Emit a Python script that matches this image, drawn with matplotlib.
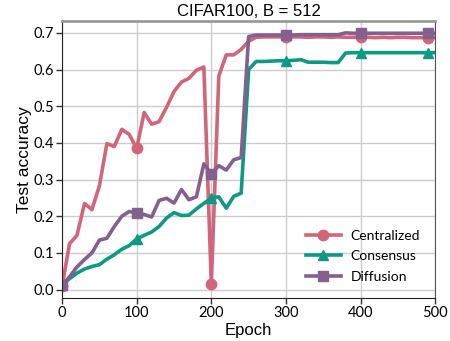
import numpy as np
import matplotlib
matplotlib.use("Agg")
from matplotlib import pyplot as plt

epochs = np.arange(0, 501, 10)

centralized = [0.010, 0.125, 0.148, 0.235, 0.218, 0.283, 0.398, 0.390, 0.437, 0.423,
               0.385, 0.483, 0.451, 0.458, 0.497, 0.540, 0.566, 0.576, 0.598, 0.607,
               0.015, 0.582, 0.640, 0.640, 0.655, 0.677, 0.688, 0.689, 0.689, 0.689,
               0.689, 0.689, 0.689, 0.688, 0.689, 0.689, 0.688, 0.689, 0.688, 0.688,
               0.688, 0.688, 0.687, 0.688, 0.687, 0.688, 0.688, 0.687, 0.687, 0.687,
               0.687]
consensus = [0.012, 0.030, 0.045, 0.056, 0.063, 0.068, 0.083, 0.095, 0.110, 0.120,
             0.138, 0.148, 0.157, 0.172, 0.195, 0.210, 0.202, 0.203, 0.220, 0.235,
             0.250, 0.253, 0.222, 0.254, 0.263, 0.600, 0.622, 0.622, 0.623, 0.624,
             0.624, 0.625, 0.627, 0.620, 0.620, 0.620, 0.619, 0.619, 0.645, 0.646,
             0.646, 0.646, 0.646, 0.646, 0.646, 0.646, 0.646, 0.646, 0.646, 0.646,
             0.646]
diffusion = [0.012, 0.035, 0.062, 0.082, 0.100, 0.135, 0.140, 0.172, 0.200, 0.213,
             0.208, 0.205, 0.198, 0.243, 0.249, 0.236, 0.273, 0.245, 0.253, 0.343,
             0.315, 0.338, 0.326, 0.354, 0.360, 0.690, 0.694, 0.694, 0.694, 0.694,
             0.694, 0.694, 0.695, 0.695, 0.695, 0.695, 0.695, 0.695, 0.700, 0.699,
             0.699, 0.699, 0.699, 0.699, 0.699, 0.699, 0.699, 0.699, 0.699, 0.699,
             0.699]

labels = ["Centralized", "Consensus", "Diffusion"]
colors = ["#D1667A", "#0E9985", "#84608E"]
markers = ["o", "^", "s"]
marks = [0, 10, 20, 30, 40, 49]

fig = plt.figure(figsize=(4.5, 3.41), dpi=100)
ax = fig.add_axes([0.138, 0.126, 0.829, 0.812])

for vals, lab, c, m in zip([centralized, consensus, diffusion], labels, colors, markers):
	ax.plot(epochs, vals, color=c, lw=2.6, marker=m, markersize=7.5,
			markevery=marks, label=lab)

ax.set_xlim(0, 500)
ax.set_ylim(-0.023, 0.732)
ax.set_xticks(np.arange(0, 501, 100))
ax.set_yticks(np.arange(0, 0.71, 0.1))
ax.set_yticklabels([f"{v:.1f}" for v in np.arange(0, 0.71, 0.1)])
ax.grid(True, color="#cccccc", lw=1)
ax.set_axisbelow(True)

for lbl in ax.get_xticklabels() + ax.get_yticklabels():
	lbl.set_fontfamily("Lato")
	lbl.set_fontsize(10.5)
ax.tick_params(length=4, width=1, color="#333333", pad=2)

ax.spines["left"].set_color("#222222")
ax.spines["bottom"].set_color("#222222")
ax.spines["top"].set_color("#9a9a9a")
ax.spines["top"].set_linewidth(2)
ax.spines["right"].set_color("#555555")

ax.set_title("CIFAR100, B = 512", fontsize=12, family="Liberation Sans", pad=4)
ax.set_xlabel("Epoch", fontsize=12, family="Liberation Sans", labelpad=2)
ax.set_ylabel("Test accuracy", fontsize=12.5, family="Liberation Sans", labelpad=1)

ax.legend(loc="lower right", frameon=False, prop={"family": "Lato", "size": 10},
		  handlelength=2.5, borderaxespad=0.7, labelspacing=0.62, handletextpad=0.7)

plt.savefig("out.png", dpi=100)
